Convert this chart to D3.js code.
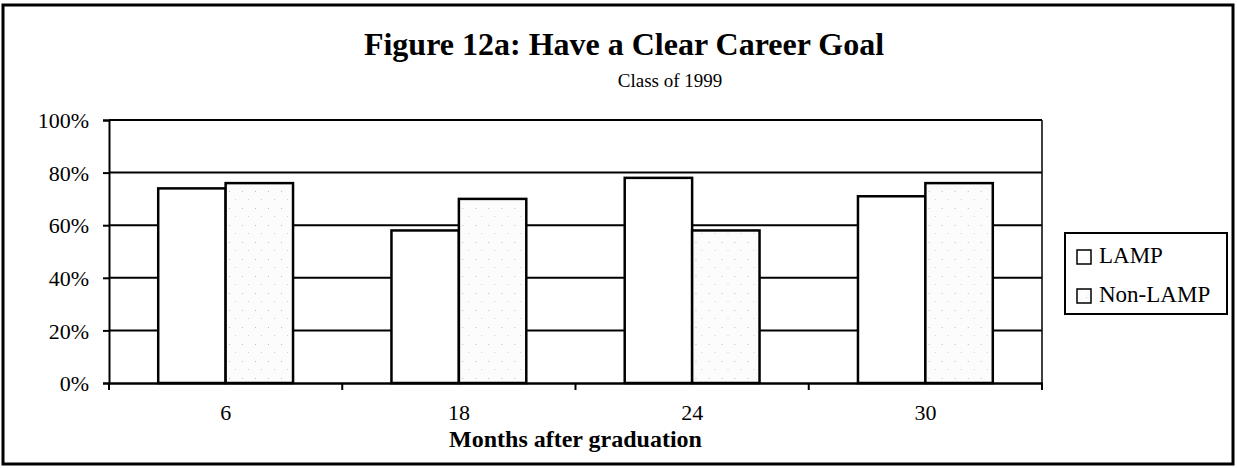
<!DOCTYPE html>
<html>
<head>
<meta charset="utf-8">
<script src="https://cdn.jsdelivr.net/npm/d3@7"></script>
<style>
    body { margin: 0; background: #fff; }
    text { font-family: "Liberation Serif", "Times New Roman", serif; fill: #000; }
</style>
</head>
<body>
<div id="chart"></div>
<script>
const months = ["6", "18", "24", "30"];
const series = ["LAMP", "Non-LAMP"];
const lamp = [0.74, 0.58, 0.78, 0.71];
const nonLamp = [0.76, 0.70, 0.58, 0.76];
const yTicks = [0, 0.2, 0.4, 0.6, 0.8, 1.0];

const width = 1237, height = 468;
const plotLeft = 109, plotRight = 1042, plotTop = 120, plotBottom = 383;

const svg = d3.select("#chart").append("svg")
    .attr("width", width)
    .attr("height", height);

// speckled fill for the Non-LAMP bars
const pat = svg.append("defs").append("pattern")
    .attr("id", "speckle")
    .attr("width", 13)
    .attr("height", 17)
    .attr("patternUnits", "userSpaceOnUse");
pat.append("rect").attr("width", 13).attr("height", 17).attr("fill", "#fcfcfc");
pat.append("rect").attr("x", 3).attr("y", 4).attr("width", 1).attr("height", 1).attr("fill", "#bdbdbd");
pat.append("rect").attr("x", 9).attr("y", 12).attr("width", 1).attr("height", 1).attr("fill", "#cfcfcf");

const fills = { "LAMP": "#ffffff", "Non-LAMP": "url(#speckle)" };

// outer frame
svg.append("rect")
    .attr("x", 3)
    .attr("y", 5)
    .attr("width", 1230)
    .attr("height", 459)
    .attr("fill", "none")
    .attr("stroke", "#000")
    .attr("stroke-width", 3);

const x = d3.scaleBand()
    .domain(months)
    .range([plotLeft, plotRight]);

const xInner = d3.scaleBand()
    .domain(series)
    .range([0, x.bandwidth()])
    .paddingOuter(0.73);

const y = d3.scaleLinear()
    .domain([0, 1])
    .range([plotBottom, plotTop]);

// gridlines
svg.append("g")
    .selectAll("line")
    .data(yTicks.slice(1))
    .enter().append("line")
    .attr("x1", plotLeft)
    .attr("x2", plotRight)
    .attr("y1", d => y(d))
    .attr("y2", d => y(d))
    .attr("stroke", "#000")
    .attr("stroke-width", 2);

// right border of plot area
svg.append("line")
    .attr("x1", plotRight).attr("x2", plotRight)
    .attr("y1", plotTop).attr("y2", plotBottom)
    .attr("stroke", "#000")
    .attr("stroke-width", 1.5);

const rows = months.map((m, i) => ({ month: m, "LAMP": lamp[i], "Non-LAMP": nonLamp[i] }));

svg.append("g")
    .selectAll("g")
    .data(rows)
    .enter().append("g")
    .attr("transform", d => `translate(${x(d.month)},0)`)
    .selectAll("rect")
    .data(d => series.map(s => ({ key: s, value: d[s] })))
    .enter().append("rect")
    .attr("x", d => xInner(d.key))
    .attr("width", xInner.bandwidth())
    .attr("y", d => y(d.value))
    .attr("height", d => plotBottom - y(d.value))
    .attr("fill", d => fills[d.key])
    .attr("stroke", "#000")
    .attr("stroke-width", 2.5);

// y axis
const yAxis = svg.append("g")
    .attr("transform", `translate(${plotLeft},0)`)
    .call(d3.axisLeft(y).tickValues(yTicks).tickFormat(d3.format(".0%")).tickSizeOuter(0).tickSize(6).tickPadding(14));
yAxis.select(".domain").attr("stroke-width", 2);
yAxis.selectAll(".tick line").attr("stroke-width", 2);
yAxis.selectAll("text").style("font-size", "22px").attr("dy", "0.35em");

// x axis with ticks at category boundaries
const xAxis = svg.append("g")
    .attr("transform", `translate(0,${plotBottom})`)
    .call(d3.axisBottom(x).tickSize(0).tickPadding(21));
xAxis.select(".domain").attr("stroke-width", 2.5);
xAxis.selectAll("text").style("font-size", "22px");

svg.append("g")
    .selectAll("line")
    .data(months.map(m => x(m)).concat([plotRight]))
    .enter().append("line")
    .attr("x1", d => d).attr("x2", d => d)
    .attr("y1", plotBottom).attr("y2", plotBottom + 7)
    .attr("stroke", "#000")
    .attr("stroke-width", 2);

svg.append("text")
    .attr("x", (plotLeft + plotRight) / 2)
    .attr("y", 447)
    .attr("text-anchor", "middle")
    .style("font-size", "24px")
    .style("font-weight", "bold")
    .text("Months after graduation");

// titles
svg.append("text")
    .attr("x", 624)
    .attr("y", 55)
    .attr("text-anchor", "middle")
    .style("font-size", "32px")
    .style("font-weight", "bold")
    .text("Figure 12a: Have a Clear Career Goal");

svg.append("text")
    .attr("x", 670)
    .attr("y", 87)
    .attr("text-anchor", "middle")
    .style("font-size", "19px")
    .text("Class of 1999");

// legend
const legend = svg.append("g").attr("transform", "translate(1065,233)");
legend.append("rect")
    .attr("width", 162)
    .attr("height", 81)
    .attr("fill", "#fff")
    .attr("stroke", "#000")
    .attr("stroke-width", 2);

const item = legend.selectAll(".item")
    .data(series)
    .enter().append("g")
    .attr("class", "item")
    .attr("transform", (d, i) => `translate(12,${30 + i * 39})`);

item.append("rect")
    .attr("x", 0)
    .attr("y", -13)
    .attr("width", 14)
    .attr("height", 14)
    .attr("fill", d => fills[d])
    .attr("stroke", "#000")
    .attr("stroke-width", 1.5);

item.append("text")
    .attr("x", 22)
    .attr("y", 0)
    .style("font-size", "23px")
    .text(d => d);
</script>
</body>
</html>
